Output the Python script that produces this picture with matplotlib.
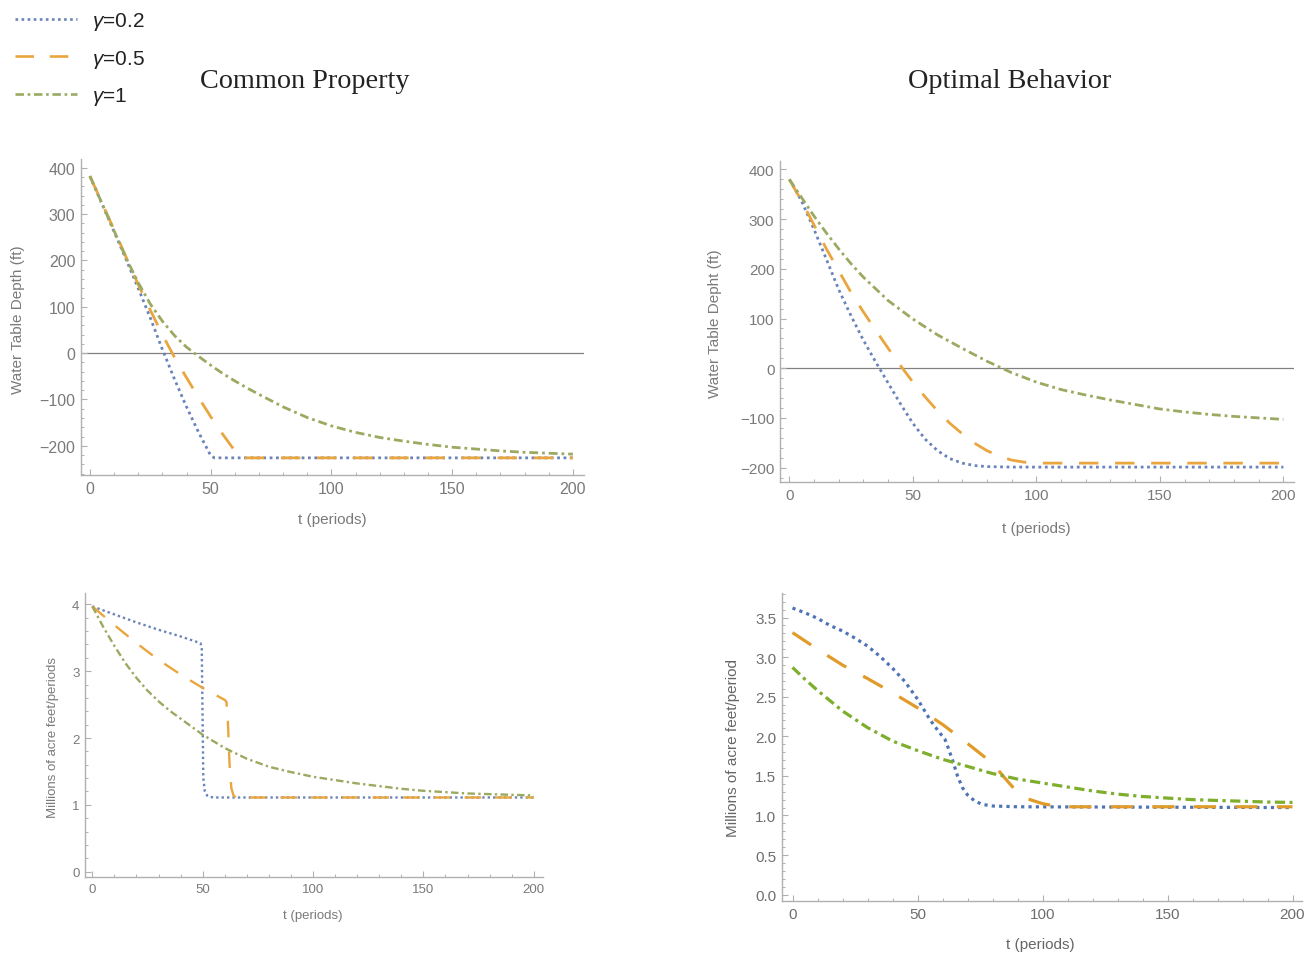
import matplotlib
matplotlib.use("Agg")
import matplotlib.pyplot as plt
from matplotlib.ticker import MultipleLocator, FormatStrFormatter
from matplotlib.lines import Line2D

plt.rcParams['font.family'] = ['Liberation Sans', 'DejaVu Sans']
plt.rcParams['mathtext.fontset'] = 'custom'
plt.rcParams['mathtext.it'] = 'Liberation Sans:italic'
plt.rcParams['mathtext.rm'] = 'Liberation Sans'

# ---------------- data ----------------
series_labels = [r'$\gamma$=0.2', r'$\gamma$=0.5', r'$\gamma$=1']
titles = ['Common Property', 'Optimal Behavior']

# Common property: water table depth (ft)
cp_t_02 = [0, 5, 10, 15, 20, 25, 30, 35, 40, 45, 50, 51.5, 200]
cp_d_02 = [382, 322, 262, 202, 140, 76, 8, -56, -116, -171, -221, -226, -226]
cp_t_05 = [0, 5, 10, 15, 20, 25, 30, 35, 40, 45, 50, 55, 60, 62, 200]
cp_d_05 = [382, 324, 266, 207, 148, 93, 40, -9, -53, -96, -137, -175, -211, -226, -226]
cp_t_1 = [0, 5, 10, 15, 20, 25, 30, 35, 40, 45, 50, 55, 60, 65, 70, 80, 90, 100,
          110, 120, 130, 140, 150, 160, 170, 180, 190, 200]
cp_d_1 = [382, 323, 264, 205, 152, 106, 69, 38, 13, -7, -26, -44, -60, -75, -89, -116, -139, -157,
          -171, -182, -190, -197, -203, -207, -211, -214, -216, -218]

# Optimal behavior: water table depth (ft)
ob_t_02 = [0, 5, 10, 15, 20, 25, 30, 35, 40, 45, 50, 55, 60, 65, 70, 75, 80, 90, 200]
ob_d_02 = [380, 336, 279, 219, 158, 105, 56, 12, -30, -72, -111, -143, -166, -182, -191, -196, -198, -199, -199]
ob_t_05 = [0, 5, 10, 15, 20, 25, 30, 35, 40, 45, 50, 55, 60, 65, 70, 75, 80, 85, 90, 95, 100, 105, 200]
ob_d_05 = [380, 336, 288, 240, 196, 152, 113, 76, 40, 5, -28, -58, -86, -111, -132, -151, -166, -177,
           -185, -189, -191, -191, -191]
ob_t_1 = [0, 5, 10, 15, 20, 25, 30, 40, 50, 60, 70, 80, 90, 100, 110, 120, 130, 140, 150, 160,
          170, 180, 190, 200]
ob_d_1 = [380, 343, 306, 272, 240, 210, 183, 136, 99, 67, 40, 14, -9, -28, -43, -54, -64, -73, -82, -88,
          -93, -97, -100, -103]

# Common property: extraction (millions of acre feet / period)
cx_t_02 = [0, 10, 20, 30, 40, 49, 49.6, 49.9, 50.3, 51, 52, 53, 55, 200]
cx_q_02 = [3.97, 3.85, 3.73, 3.62, 3.52, 3.42, 3.35, 2.5, 1.4, 1.2, 1.14, 1.12, 1.11, 1.11]
cx_t_05 = [0, 10, 20, 30, 40, 50, 60, 60.8, 61.5, 62.2, 63, 64, 65, 200]
cx_q_05 = [3.97, 3.69, 3.42, 3.17, 2.95, 2.75, 2.57, 2.54, 2.2, 1.6, 1.25, 1.14, 1.11, 1.11]
cx_t_1 = [0, 5, 10, 15, 20, 25, 30, 35, 40, 45, 50, 60, 70, 80, 90, 100, 110, 120, 130, 140, 150,
          160, 170, 180, 190, 200]
cx_q_1 = [3.97, 3.66, 3.38, 3.12, 2.90, 2.71, 2.55, 2.41, 2.29, 2.17, 2.05, 1.85, 1.69, 1.57, 1.49,
          1.42, 1.37, 1.32, 1.28, 1.24, 1.21, 1.19, 1.17, 1.16, 1.15, 1.14]

# Optimal behavior: extraction (millions of acre feet / period)
ox_t_02 = [0, 5, 10, 15, 20, 25, 30, 35, 40, 45, 50, 55, 58, 61, 62, 64, 66, 68, 70, 73, 76, 80, 90, 200]
ox_q_02 = [3.62, 3.56, 3.49, 3.40, 3.33, 3.24, 3.14, 3.01, 2.86, 2.69, 2.47, 2.21, 2.08, 1.96, 1.88,
           1.70, 1.50, 1.35, 1.26, 1.18, 1.14, 1.12, 1.11, 1.10]
ox_t_05 = [0, 10, 20, 30, 40, 50, 60, 70, 80, 85, 90, 95, 100, 105, 110, 200]
ox_q_05 = [3.31, 3.10, 2.90, 2.73, 2.55, 2.36, 2.15, 1.91, 1.66, 1.47, 1.29, 1.20, 1.15, 1.12, 1.11, 1.11]
ox_t_1 = [0, 5, 10, 20, 30, 40, 50, 60, 70, 80, 90, 100, 110, 120, 130, 140, 150, 160, 170, 180, 190, 200]
ox_q_1 = [2.87, 2.72, 2.58, 2.32, 2.11, 1.94, 1.82, 1.71, 1.62, 1.53, 1.46, 1.41, 1.36, 1.31, 1.27, 1.24,
          1.22, 1.20, 1.19, 1.18, 1.17, 1.165]

# ---------------- styling ----------------
W, H = 1308, 954
fig = plt.figure(figsize=(W / 100, H / 100), dpi=100)

cols_soft = ['#6A84BA', '#E9A53E', '#9AAA60']
cols_p4 = ['#4F74B6', '#E09B2A', '#7DAE2C']
styles = [(0, (1, 1.3)), (0, (7, 6)), (0, (3.2, 1.4, 1, 1.4))]

spine_col = '#B0B0B0'
lab_col = '#7A7A7A'


def px_axes(l, t, r, b):
    return fig.add_axes([l / W, 1 - b / H, (r - l) / W, (b - t) / H])


def style_axes(ax, xlim, ylim, ymaj, ymin, tsize, ylab, xlab, ylab_xy, xlab_xy, lsize):
    ax.set_xlim(*xlim)
    ax.set_ylim(*ylim)
    for s in ['top', 'right']:
        ax.spines[s].set_visible(False)
    for s in ['left', 'bottom']:
        ax.spines[s].set_color(spine_col)
        ax.spines[s].set_linewidth(1.0)
    ax.xaxis.set_major_locator(MultipleLocator(50))
    ax.xaxis.set_minor_locator(MultipleLocator(10))
    ax.yaxis.set_major_locator(MultipleLocator(ymaj))
    ax.yaxis.set_minor_locator(MultipleLocator(ymin))
    ax.tick_params(which='major', direction='in', length=4.5, width=0.8, color=spine_col,
                   labelsize=tsize, labelcolor=lab_col, pad=4)
    ax.tick_params(which='minor', direction='in', length=2.5, width=0.7, color=spine_col)
    ax.set_ylabel(ylab, fontsize=lsize, color=lab_col, va='center')
    ax.yaxis.set_label_coords(*ylab_xy)
    ax.set_xlabel(xlab, fontsize=lsize, color=lab_col, va='center')
    ax.xaxis.set_label_coords(*xlab_xy)
    ax.patch.set_alpha(0)


# Panel 1
ax1 = px_axes(81, 160, 584, 476)
ax1.axhline(0, color='#808080', lw=0.9, zorder=1)
for t, d, c, ls in zip([cp_t_02, cp_t_05, cp_t_1], [cp_d_02, cp_d_05, cp_d_1], cols_soft, styles):
    ax1.plot(t, d, color=c, ls=ls, lw=2.0, dash_capstyle='butt', zorder=3)
style_axes(ax1, (-3.7, 204.6), (-263, 419), 100, 20, 11.5, 'Water Table Depth (ft)', 't (periods)',
           (-0.125, 0.494), (0.499, -0.139), 11)

# Panel 2
ax2 = px_axes(780, 162, 1294, 483)
ax2.axhline(0, color='#808080', lw=0.9, zorder=1)
for t, d, c, ls in zip([ob_t_02, ob_t_05, ob_t_1], [ob_d_02, ob_d_05, ob_d_1], cols_soft, styles):
    ax2.plot(t, d, color=c, ls=ls, lw=2.0, dash_capstyle='butt', zorder=3)
style_axes(ax2, (-3.8, 204.3), (-229, 417), 100, 20, 11, 'Water Table Depht (ft)', 't (periods)',
           (-0.126, 0.495), (0.498, -0.143), 11)

# Panel 3
ax3 = px_axes(85, 594, 543, 878)
for t, q, c, ls in zip([cx_t_02, cx_t_05, cx_t_1], [cx_q_02, cx_q_05, cx_q_1], cols_soft, styles):
    ax3.plot(t, q, color=c, ls=ls, lw=1.7, dash_capstyle='butt', zorder=3)
style_axes(ax3, (-3.3, 204.2), (-0.08, 4.17), 1, 0.2, 9.5, 'Millions of acre feet/periods', 't (periods)',
           (-0.070, 0.496), (0.498, -0.135), 9.5)

# Panel 4
ax4 = px_axes(782, 594, 1302, 902)
for t, q, c, ls in zip([ox_t_02, ox_t_05, ox_t_1], [ox_q_02, ox_q_05, ox_q_1], cols_p4, styles):
    ax4.plot(t, q, color=c, ls=ls, lw=2.3, dash_capstyle='butt', zorder=3)
style_axes(ax4, (-4.2, 203.8), (-0.08, 3.81), 0.5, 0.1, 11, 'Millions of acre feet/period', 't (periods)',
           (-0.094, 0.5), (0.496, -0.140), 11)
ax4.yaxis.set_major_formatter(FormatStrFormatter('%.1f'))
ax4.tick_params(labelcolor='#6E6E6E')
ax4.xaxis.label.set_color('#666666')
ax4.yaxis.label.set_color('#666666')

# Titles
fig.text(305 / W, 1 - 82 / H, titles[0], ha='center', va='center', family='Liberation Serif',
         fontsize=20.3, color='#222222')
fig.text(1010 / W, 1 - 82 / H, titles[1], ha='center', va='center', family='Liberation Serif',
         fontsize=20.3, color='#222222')

# Legend
handles = [Line2D([], [], color=c, ls=ls, lw=1.9, dash_capstyle='butt') for c, ls in zip(cols_soft, styles)]
fig.legend(handles, series_labels, loc='upper left', bbox_to_anchor=(15 / W, 1 - 11 / H),
           frameon=False, fontsize=15, handlelength=2.98, handletextpad=0.72, labelspacing=0.75,
           borderpad=0, borderaxespad=0, labelcolor='#222222')

fig.savefig('out.png', dpi=100)
